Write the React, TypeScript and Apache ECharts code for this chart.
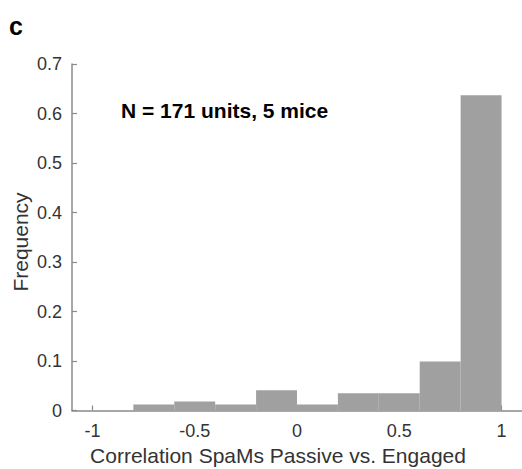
import React, { useEffect, useRef } from "react";
import * as echarts from "echarts";

const binStarts = [-0.8, -0.6, -0.4, -0.2, 0, 0.2, 0.4, 0.6, 0.8];
const binWidth = 0.2;
const frequencies = [0.012, 0.018, 0.012, 0.041, 0.012, 0.035, 0.035, 0.099, 0.637];
const xTicks = [-1, -0.5, 0, 0.5, 1];
const yTicks = [0, 0.1, 0.2, 0.3, 0.4, 0.5, 0.6, 0.7];

const panelLabel = "c";
const annotation = "N = 171 units, 5 mice";
const xTitle = "Correlation SpaMs Passive vs. Engaged";
const yTitle = "Frequency";

export default function App() {
  const ref = useRef<HTMLDivElement>(null);
  useEffect(() => {
    document.body.style.margin = "0";
    const chart = echarts.init(ref.current!, null, { renderer: "svg" });
    const data = binStarts.map((s, i) => [s, s + binWidth, frequencies[i]]);
    const font = "'Liberation Sans', Arial, Helvetica, sans-serif";
    chart.setOption({
      animation: false,
      backgroundColor: "#ffffff",
      grid: { left: 72, right: 0, top: 64, bottom: 58.5, containLabel: false },
      xAxis: {
        type: "value",
        min: -1.1,
        max: 1.1,
        axisLine: { show: true, onZero: false, lineStyle: { color: "#8a8a8a", width: 1.5 } },
        axisTick: { show: true, inside: true, length: 5, customValues: xTicks, lineStyle: { color: "#8a8a8a", width: 1.2 } },
        axisLabel: { show: true, customValues: xTicks, margin: 11, fontSize: 18, color: "#333333", fontFamily: font },
        splitLine: { show: false },
      },
      yAxis: {
        type: "value",
        min: 0,
        max: 0.7,
        interval: 0.1,
        axisLine: { show: true, onZero: false, lineStyle: { color: "#8a8a8a", width: 1.5 } },
        axisTick: { show: true, inside: true, length: 5, customValues: yTicks, lineStyle: { color: "#8a8a8a", width: 1.2 } },
        axisLabel: { show: true, customValues: yTicks, margin: 10, fontSize: 18, color: "#333333", fontFamily: font },
        splitLine: { show: false },
      },
      series: [
        {
          type: "custom",
          data,
          renderItem: (params: any, api: any) => {
            const p0 = api.coord([api.value(0), api.value(2)]);
            const p1 = api.coord([api.value(1), 0]);
            return {
              type: "rect",
              shape: { x: p0[0], y: p0[1], width: p1[0] - p0[0], height: p1[1] - p0[1] },
              style: { fill: "#a0a0a0", stroke: null },
            };
          },
          z: 1,
        },
      ],
      graphic: [
        {
          type: "text",
          left: 9,
          top: 13,
          style: { text: panelLabel, fontSize: 25, fontWeight: "bold", fill: "#000", fontFamily: font },
        },
        {
          type: "text",
          left: 121,
          top: 100,
          style: { text: annotation, fontSize: 21, fontWeight: "bold", fill: "#000", fontFamily: font },
        },
        {
          type: "text",
          x: 278,
          y: 455,
          style: { text: xTitle, fontSize: 21, fill: "#333333", fontFamily: font, align: "center", verticalAlign: "middle" },
        },
        {
          type: "text",
          x: 20,
          y: 242,
          rotation: Math.PI / 2,
          style: { text: yTitle, fontSize: 21, fill: "#333333", fontFamily: font, align: "center", verticalAlign: "middle" },
        },
      ],
    });
    return () => chart.dispose();
  }, []);
  return <div ref={ref} style={{ width: 522, height: 469 }} />;
}
